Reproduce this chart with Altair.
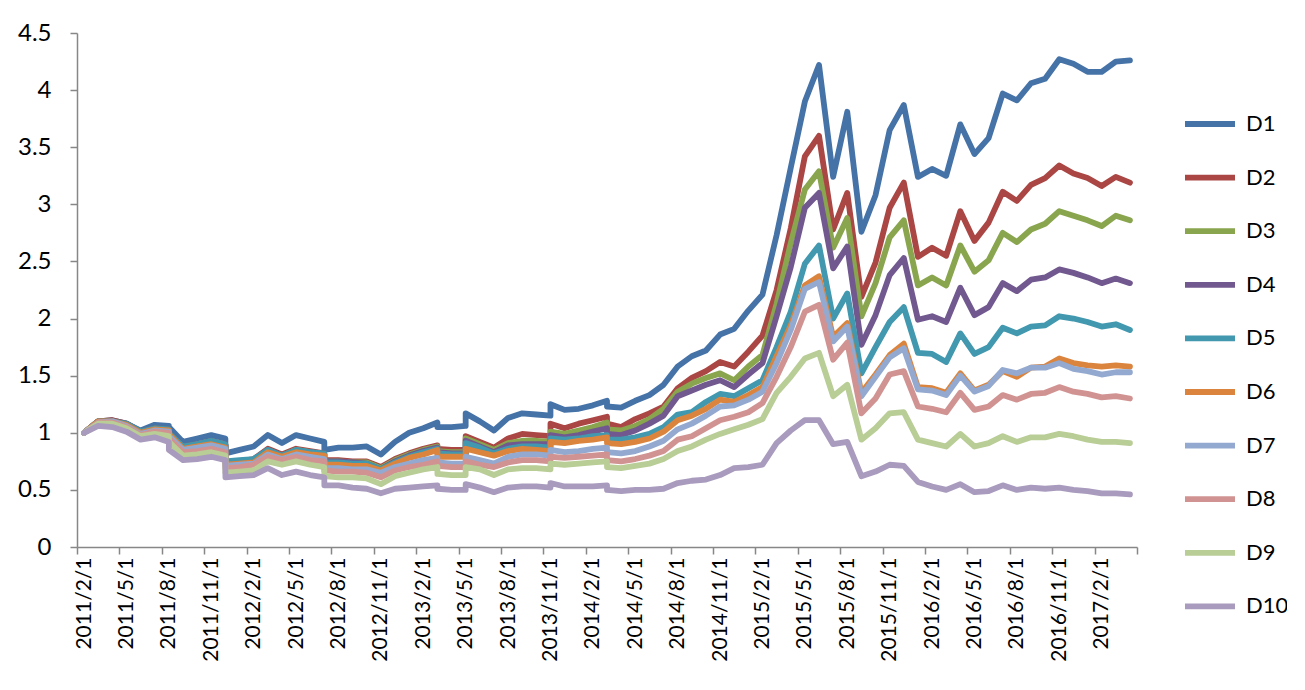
import json
import altair as alt
import pandas as pd

# month index (0 = 2011/2) of every data point; repeated months hold two points
pt_month = [0, 1, 2, 3, 4, 5, 6, 6, 7, 8,
            9, 10, 10, 11, 12, 13, 14, 15, 16, 17,
            17, 18, 19, 20, 21, 22, 23, 24, 25, 25,
            26, 27, 27, 28, 29, 30, 31, 32, 33, 33,
            34, 35, 36, 37, 37, 38, 39, 40, 41, 42,
            43, 44, 45, 46, 47, 48, 49, 50, 51, 52,
            53, 54, 55, 56, 57, 58, 59, 60, 61, 62,
            63, 64, 65, 66, 67, 68, 69, 70, 71, 72, 73, 74]

D1 = [1.00, 1.10, 1.11, 1.08, 1.02, 1.07, 1.06, 1.05, 0.92, 0.95,
      0.98, 0.95, 0.82, 0.85, 0.88, 0.98, 0.91, 0.98, 0.95, 0.92,
      0.85, 0.87, 0.87, 0.88, 0.81, 0.92, 1.00, 1.04, 1.09, 1.05,
      1.05, 1.06, 1.17, 1.10, 1.02, 1.13, 1.17, 1.16, 1.15, 1.25,
      1.20, 1.21, 1.24, 1.28, 1.23, 1.22, 1.28, 1.33, 1.42, 1.58,
      1.67, 1.72, 1.86, 1.91, 2.07, 2.21, 2.73, 3.32, 3.90, 4.22,
      3.24, 3.81, 2.76, 3.08, 3.65, 3.87, 3.24, 3.31, 3.25, 3.70,
      3.44, 3.58, 3.97, 3.91, 4.06, 4.10, 4.27, 4.23, 4.16, 4.16, 4.25, 4.26]
D2 = [1.00, 1.10, 1.11, 1.08, 1.01, 1.04, 1.03, 1.00, 0.88, 0.90,
      0.93, 0.90, 0.74, 0.75, 0.77, 0.86, 0.81, 0.86, 0.84, 0.82,
      0.76, 0.76, 0.75, 0.75, 0.70, 0.77, 0.82, 0.86, 0.89, 0.86,
      0.85, 0.85, 0.97, 0.92, 0.87, 0.95, 0.99, 0.98, 0.97, 1.08,
      1.04, 1.08, 1.11, 1.14, 1.08, 1.05, 1.12, 1.17, 1.23, 1.39,
      1.48, 1.54, 1.62, 1.58, 1.71, 1.85, 2.25, 2.79, 3.42, 3.60,
      2.78, 3.10, 2.19, 2.49, 2.97, 3.19, 2.54, 2.62, 2.55, 2.94,
      2.68, 2.84, 3.11, 3.03, 3.17, 3.23, 3.34, 3.27, 3.23, 3.16, 3.24, 3.19]
D3 = [1.00, 1.10, 1.10, 1.07, 1.00, 1.03, 1.02, 0.99, 0.87, 0.89,
      0.92, 0.89, 0.74, 0.75, 0.76, 0.85, 0.80, 0.85, 0.83, 0.81,
      0.75, 0.75, 0.74, 0.74, 0.69, 0.76, 0.81, 0.85, 0.88, 0.84,
      0.83, 0.83, 0.95, 0.90, 0.85, 0.91, 0.93, 0.93, 0.92, 1.01,
      0.99, 1.02, 1.05, 1.09, 1.03, 1.02, 1.06, 1.12, 1.21, 1.36,
      1.43, 1.48, 1.52, 1.46, 1.58, 1.68, 2.13, 2.66, 3.13, 3.29,
      2.62, 2.88, 2.02, 2.31, 2.71, 2.86, 2.29, 2.36, 2.29, 2.64,
      2.41, 2.51, 2.75, 2.67, 2.78, 2.83, 2.94, 2.90, 2.86, 2.81, 2.90, 2.86]
D4 = [1.00, 1.10, 1.10, 1.07, 1.00, 1.03, 1.02, 0.99, 0.87, 0.89,
      0.92, 0.89, 0.74, 0.75, 0.76, 0.85, 0.80, 0.84, 0.83, 0.81,
      0.75, 0.75, 0.74, 0.73, 0.68, 0.75, 0.80, 0.84, 0.87, 0.83,
      0.82, 0.82, 0.93, 0.88, 0.83, 0.89, 0.90, 0.90, 0.90, 0.98,
      0.96, 0.98, 1.01, 1.04, 0.99, 0.98, 1.02, 1.08, 1.15, 1.32,
      1.37, 1.42, 1.46, 1.40, 1.51, 1.61, 2.02, 2.45, 2.97, 3.10,
      2.44, 2.63, 1.77, 2.03, 2.38, 2.53, 1.99, 2.02, 1.97, 2.27,
      2.03, 2.10, 2.31, 2.24, 2.34, 2.36, 2.43, 2.40, 2.36, 2.31, 2.35, 2.31]
D5 = [1.00, 1.10, 1.10, 1.08, 1.01, 1.04, 1.03, 1.00, 0.88, 0.90,
      0.93, 0.90, 0.75, 0.76, 0.77, 0.85, 0.80, 0.85, 0.83, 0.82,
      0.74, 0.74, 0.73, 0.73, 0.68, 0.74, 0.79, 0.83, 0.86, 0.82,
      0.81, 0.81, 0.91, 0.87, 0.82, 0.86, 0.88, 0.88, 0.87, 0.95,
      0.94, 0.95, 0.97, 0.98, 0.94, 0.94, 0.96, 0.99, 1.05, 1.16,
      1.18, 1.27, 1.34, 1.32, 1.39, 1.46, 1.75, 2.06, 2.48, 2.64,
      2.00, 2.22, 1.52, 1.75, 1.97, 2.10, 1.70, 1.69, 1.62, 1.87,
      1.69, 1.75, 1.92, 1.87, 1.93, 1.94, 2.02, 2.00, 1.97, 1.93, 1.95, 1.90]
D6 = [1.00, 1.10, 1.10, 1.07, 1.00, 1.03, 1.02, 0.99, 0.86, 0.88,
      0.90, 0.87, 0.72, 0.73, 0.74, 0.83, 0.79, 0.83, 0.81, 0.80,
      0.72, 0.72, 0.71, 0.71, 0.67, 0.73, 0.78, 0.81, 0.85, 0.79,
      0.79, 0.79, 0.86, 0.83, 0.80, 0.84, 0.86, 0.85, 0.84, 0.92,
      0.91, 0.93, 0.94, 0.96, 0.91, 0.90, 0.92, 0.95, 1.01, 1.11,
      1.15, 1.21, 1.29, 1.27, 1.33, 1.40, 1.67, 1.94, 2.29, 2.37,
      1.84, 1.96, 1.35, 1.51, 1.68, 1.78, 1.40, 1.39, 1.35, 1.52,
      1.37, 1.42, 1.54, 1.49, 1.57, 1.58, 1.65, 1.61, 1.59, 1.58, 1.59, 1.58]
D7 = [1.00, 1.09, 1.10, 1.06, 0.99, 1.02, 1.01, 0.97, 0.85, 0.87,
      0.89, 0.86, 0.71, 0.72, 0.73, 0.81, 0.77, 0.81, 0.79, 0.77,
      0.69, 0.69, 0.68, 0.68, 0.65, 0.70, 0.73, 0.76, 0.78, 0.74,
      0.73, 0.73, 0.79, 0.76, 0.73, 0.79, 0.81, 0.81, 0.80, 0.85,
      0.83, 0.84, 0.86, 0.87, 0.83, 0.82, 0.84, 0.88, 0.93, 1.03,
      1.08, 1.15, 1.23, 1.24, 1.29, 1.36, 1.61, 1.90, 2.26, 2.32,
      1.80, 1.93, 1.32, 1.49, 1.66, 1.74, 1.38, 1.37, 1.33, 1.50,
      1.36, 1.41, 1.55, 1.52, 1.57, 1.57, 1.61, 1.56, 1.54, 1.51, 1.53, 1.53]
D8 = [1.00, 1.09, 1.09, 1.05, 0.98, 1.01, 1.00, 0.95, 0.83, 0.84,
      0.86, 0.83, 0.69, 0.70, 0.72, 0.79, 0.76, 0.79, 0.76, 0.75,
      0.67, 0.66, 0.66, 0.65, 0.61, 0.67, 0.70, 0.72, 0.75, 0.71,
      0.70, 0.70, 0.75, 0.72, 0.70, 0.74, 0.76, 0.76, 0.75, 0.79,
      0.78, 0.79, 0.80, 0.81, 0.76, 0.75, 0.77, 0.80, 0.84, 0.94,
      0.97, 1.04, 1.11, 1.14, 1.18, 1.26, 1.49, 1.75, 2.06, 2.12,
      1.64, 1.79, 1.17, 1.30, 1.51, 1.54, 1.23, 1.21, 1.18, 1.35,
      1.20, 1.23, 1.33, 1.29, 1.34, 1.35, 1.40, 1.36, 1.34, 1.31, 1.32, 1.30]
D9 = [1.00, 1.08, 1.08, 1.04, 0.97, 0.99, 0.97, 0.92, 0.80, 0.81,
      0.83, 0.80, 0.65, 0.66, 0.67, 0.75, 0.72, 0.75, 0.72, 0.70,
      0.62, 0.61, 0.61, 0.60, 0.55, 0.62, 0.65, 0.68, 0.70, 0.64,
      0.63, 0.63, 0.70, 0.68, 0.63, 0.68, 0.69, 0.69, 0.68, 0.73,
      0.72, 0.73, 0.74, 0.75, 0.70, 0.69, 0.71, 0.73, 0.77, 0.84,
      0.88, 0.94, 0.99, 1.03, 1.07, 1.12, 1.35, 1.49, 1.65, 1.70,
      1.32, 1.42, 0.94, 1.04, 1.17, 1.18, 0.94, 0.91, 0.88, 0.99,
      0.88, 0.91, 0.97, 0.92, 0.96, 0.96, 0.99, 0.97, 0.94, 0.92, 0.92, 0.91]
D10 = [1.00, 1.06, 1.05, 1.01, 0.94, 0.96, 0.92, 0.85, 0.76, 0.77,
       0.79, 0.76, 0.61, 0.62, 0.63, 0.69, 0.63, 0.66, 0.63, 0.61,
       0.54, 0.54, 0.52, 0.51, 0.47, 0.51, 0.52, 0.53, 0.54, 0.51,
       0.50, 0.50, 0.55, 0.52, 0.48, 0.52, 0.53, 0.53, 0.52, 0.56,
       0.53, 0.53, 0.53, 0.54, 0.50, 0.49, 0.50, 0.50, 0.51, 0.56,
       0.58, 0.59, 0.63, 0.69, 0.70, 0.72, 0.91, 1.02, 1.11, 1.11,
       0.90, 0.92, 0.62, 0.66, 0.72, 0.71, 0.57, 0.53, 0.50, 0.55,
       0.48, 0.49, 0.54, 0.50, 0.52, 0.51, 0.52, 0.50, 0.49, 0.47, 0.47, 0.46]

series_names = ["D1", "D2", "D3", "D4", "D5", "D6", "D7", "D8", "D9", "D10"]
series_values = [D1, D2, D3, D4, D5, D6, D7, D8, D9, D10]
series_colors = ["#4572A7", "#AA4643", "#89A54E", "#71588F", "#4198AF",
                 "#DB843D", "#93A9CF", "#D19392", "#B9CD96", "#A99BBD"]

tick_labels = ["2011/2/1", "2011/5/1", "2011/8/1", "2011/11/1",
               "2012/2/1", "2012/5/1", "2012/8/1", "2012/11/1",
               "2013/2/1", "2013/5/1", "2013/8/1", "2013/11/1",
               "2014/2/1", "2014/5/1", "2014/8/1", "2014/11/1",
               "2015/2/1", "2015/5/1", "2015/8/1", "2015/11/1",
               "2016/2/1", "2016/5/1", "2016/8/1", "2016/11/1",
               "2017/2/1"]
n_months = 75

rows = []
for name, vals in zip(series_names, series_values):
    for seq, (m, v) in enumerate(zip(pt_month, vals)):
        rows.append({"series": name, "seq": seq, "x": m + 0.5, "value": v})
df = pd.DataFrame(rows)

label_expr = ("datum.value < %d ? %s[round(datum.value / 3)] : ''"
              % (n_months, json.dumps(tick_labels)))

FONT = "Lato"

chart = alt.Chart(df).mark_line(
    strokeWidth=5.8, strokeJoin="round", strokeCap="round"
).encode(
    x=alt.X("x:Q",
            scale=alt.Scale(domain=[0, n_months], nice=False, zero=False),
            axis=alt.Axis(values=list(range(0, n_months + 1, 3)),
                          labelExpr=label_expr, labelAngle=270,
                          labelOffset=7, labelPadding=3, tickSize=7,
                          labelFontSize=21,
                          title=None, grid=False, labelFlush=False,
                          labelOverlap=False)),
    y=alt.Y("value:Q",
            scale=alt.Scale(domain=[0, 4.5], nice=False),
            axis=alt.Axis(values=[0, 0.5, 1, 1.5, 2, 2.5, 3, 3.5, 4, 4.5],
                          format="~g", tickSize=7, labelPadding=19,
                          labelFontSize=24,
                          title=None, grid=False)),
    color=alt.Color("series:N",
                    scale=alt.Scale(domain=series_names, range=series_colors),
                    legend=alt.Legend(title=None, orient="none",
                                      legendX=1105, legendY=63,
                                      symbolType="stroke", symbolSize=2500,
                                      symbolStrokeWidth=5.8,
                                      labelOffset=8, rowPadding=13.6,
                                      padding=0)),
    detail="series:N",
    order="seq:Q",
).properties(
    width=1060, height=514,
    autosize=alt.AutoSizeParams(type="none"),
    padding={"left": 69, "top": 25, "right": 150, "bottom": 120},
).configure_view(stroke=None).configure_axis(
    domainColor="#878787", tickColor="#878787", domainWidth=1.5, tickWidth=1.5,
    labelFont=FONT, labelColor="#000000",
).configure_legend(
    labelFont=FONT, labelFontSize=22, labelColor="#000000",
)

chart.save("out.html", embed_options={"renderer": "svg", "actions": False})
